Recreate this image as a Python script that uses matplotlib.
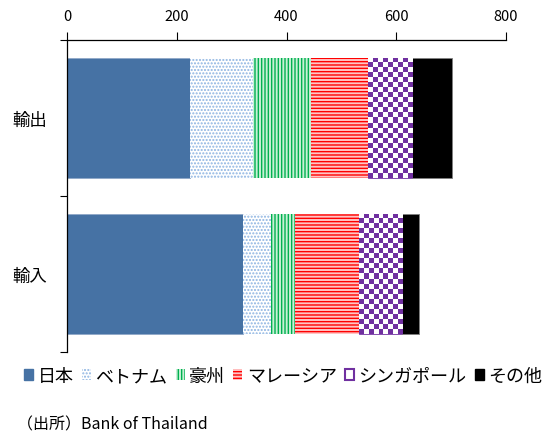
import numpy as np
import matplotlib
matplotlib.use("Agg")
import matplotlib.pyplot as plt
from matplotlib.patches import Patch

plt.rcParams["font.family"] = ["Noto Sans CJK JP", "DejaVu Sans"]
plt.rcParams["hatch.linewidth"] = 1.0

categories = ["輸出", "輸入"]
partners = ["日本", "ベトナム", "豪州", "マレーシア", "シンガポール", "その他"]
export_vals = [224, 115, 105, 104, 81, 72]
import_vals = [320, 51, 44, 117, 79, 30]
x_ticks = [0, 200, 400, 600, 800]

FACE = ["#4672A4", "white", "#c8f0d6", "#ffc4c4", "white", "black"]
HATCH_COL = ["#8fa8c8", "#8db4e2", "#00b050", "#ff0000", "#7030a0", "#808080"]
HATCH = [None, ".....", "|||||", "-----", None, None]
CHECK = "#7030a0"

fig = plt.figure(figsize=(5.53, 4.39), dpi=100)
ax = fig.add_axes([67 / 553, 1 - 352.7 / 439, 439 / 553, (352.7 - 41) / 439])

y = np.arange(len(categories))
data = np.array([export_vals, import_vals])
left = np.zeros(len(categories))
bars_by_partner = []
for i, name in enumerate(partners):
    vals = data[:, i]
    bars = ax.barh(y, vals, left=left, height=0.77, color=FACE[i],
                   edgecolor=HATCH_COL[i],
                   linewidth=0.6 if HATCH[i] is None else 0,
                   hatch=HATCH[i], zorder=2)
    bars_by_partner.append(bars)
    left = left + vals

ax.set_xlim(0, 800)
ax.set_ylim(1.5, -0.5)

# checkerboard fill for Singapore, clipped to each bar
cmap = matplotlib.colors.ListedColormap(["white", CHECK])
for bar in bars_by_partner[4]:
    x0, w = bar.get_x(), bar.get_width()
    y0, h = bar.get_y(), bar.get_height()
    px_w = w * 439 / 800
    px_h = h * (352.7 - 41) / 2
    nx, ny = max(int(round(px_w / 5)), 1), max(int(round(px_h / 5)), 1)
    board = (np.add.outer(np.arange(ny), np.arange(nx)) % 2).astype(float)
    im = ax.imshow(board, cmap=cmap, extent=(x0, x0 + w, y0 + h, y0),
                   aspect="auto", interpolation="nearest", zorder=2.5)
    im.set_clip_path(bar)
ax.set_xlim(0, 800)
ax.set_ylim(1.5, -0.5)

ax.xaxis.tick_top()
ax.set_xticks(x_ticks)
ax.set_xticklabels([str(v) for v in x_ticks], fontsize=10.5)
ax.tick_params(axis="x", direction="out", length=6, width=0.8, pad=6)
ax.set_yticks(y)
ax.set_yticklabels(categories, fontsize=12.5)
ax.tick_params(axis="y", which="major", length=0, pad=14)
ax.set_yticks([-0.5, 0.5, 1.5], minor=True)
ax.tick_params(axis="y", which="minor", length=5, width=0.8)
for s in ["right", "bottom"]:
    ax.spines[s].set_visible(False)
for s in ["left", "top"]:
    ax.spines[s].set_linewidth(0.9)

handles = []
for i, name in enumerate(partners):
    if i == 4:
        h = Patch(facecolor="white", edgecolor=CHECK, linewidth=1.5, label=name)
    elif HATCH[i]:
        h = Patch(facecolor=FACE[i], edgecolor=HATCH_COL[i], linewidth=0,
                  hatch=HATCH[i], label=name)
    else:
        h = Patch(facecolor=FACE[i], edgecolor=FACE[i], label=name)
    handles.append(h)
fig.legend(handles=handles, loc="center", bbox_to_anchor=(0.512, 1 - 377 / 439),
           ncol=6, frameon=False, fontsize=13, handlelength=0.5,
           handleheight=0.5, handletextpad=0.25, columnspacing=0.45,
           borderaxespad=0, borderpad=0)

fig.text(17 / 553, 1 - 425 / 439, "（出所）Bank of Thailand", fontsize=11.5,
         ha="left", va="center")

fig.savefig("out.png", dpi=100)
